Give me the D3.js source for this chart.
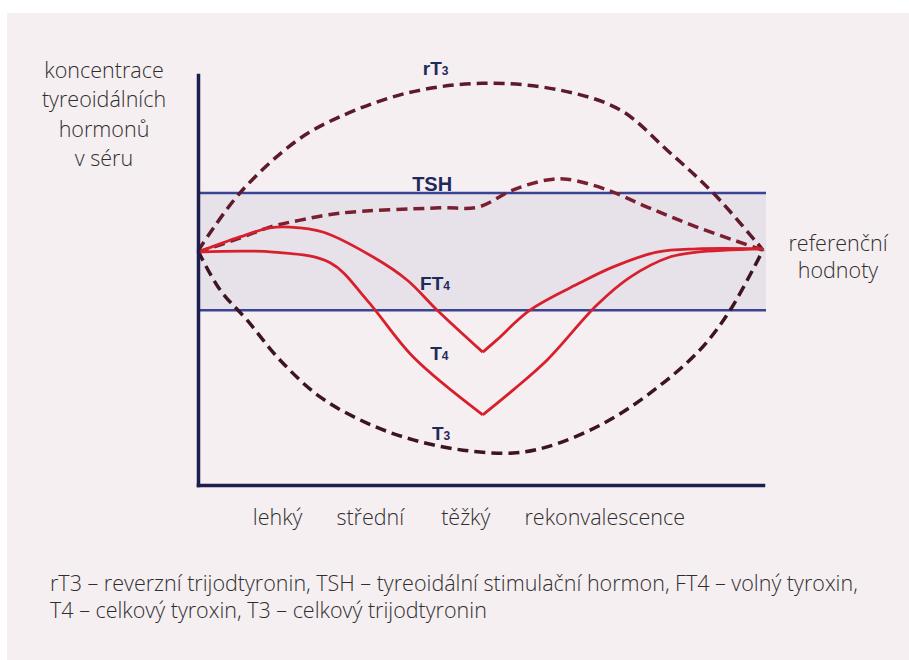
<!DOCTYPE html>
<html>
<head>
<meta charset="utf-8">
<script src="https://cdnjs.cloudflare.com/ajax/libs/d3/7.8.5/d3.min.js"></script>
<style>
  body { margin: 0; background: #fff; }
  svg { display: block; }
  .txt { font-family: "Open Sans", sans-serif; font-weight: 300; fill: #2e2e2e; }
  .tag { font-family: "Liberation Sans", Arial, sans-serif; font-weight: bold; fill: #1f2a5c; }
</style>
</head>
<body>
<script>
// phases of illness along the x axis (0..100 = time from onset to recovery)
var phases = ["lehký", "střední", "těžký", "rekonvalescence"];
var phaseAt = [14, 30.4, 47.3, 71.9];

// reference range (relative concentration, 0..100 = bottom..top of plot)
var refBand = [42.6, 71.2];

// hormone curves: [time, concentration]
var rT3 = [[0, 57.1], [7.4, 71.2], [17.5, 84], [25.1, 89.8], [37, 95.6], [50.4, 98],
    [64.1, 96.3], [74.7, 91.5], [83, 81.7], [91.2, 71.2], [100, 57.3]];
var TSH = [[0, 56.8], [7.4, 60.2], [12.7, 62.9], [18.1, 64.6], [25.1, 66.3], [42.8, 67.6],
    [49.6, 67.8], [55.8, 72], [61.8, 74.4], [65.3, 74.6], [72.4, 72], [79.5, 67.8],
    [88.3, 62.9], [100, 57.3]];
var FT4 = [[0, 56.8], [7.4, 60.5], [12.7, 62.7], [16.3, 62.9], [22.1, 61.7], [31, 55.6],
    [37, 50], [42.3, 42.7], [50.4, 32.4], [52.9, 35.4], [58.8, 42.7], [67.6, 49.3],
    [73.5, 53.2], [81.2, 56.8], [88.3, 57.6], [100, 57.6]];
var T4 = [[0, 56.8], [13.3, 56.8], [23.4, 54.2], [29.9, 45.1], [38.1, 31.2], [50.4, 17.1],
    [55.8, 23.2], [61.8, 30.5], [70.6, 43.9], [76.5, 50.7], [83.5, 55.6], [88.3, 56.8],
    [100, 57.6]];
var T3 = [[0, 57.1], [3.9, 47.6], [8.7, 40.2], [14.5, 30.5], [21.6, 21.5], [29.9, 15.1],
    [38.1, 11], [46.9, 8.5], [55.8, 7.8], [61.8, 9.3], [71.2, 14.6], [80, 22.4],
    [88.8, 32.9], [94.2, 42.7], [100, 57.3]];

// curve labels
var tags = [
    { main: "rT", sub: "3", at: [39.8, 100], size: 19 },
    { main: "TSH", sub: "", at: [37.9, 71.7], size: 20 },
    { main: "FT", sub: "4", at: [39.3, 47.6], size: 19 },
    { main: "T", sub: "4", at: [41.1, 30.5], size: 19 },
    { main: "T", sub: "3", at: [41.4, 11], size: 19 }
];

var yLabel = ["koncentrace", "tyreoidálních", "hormonů", "v séru"];
var refLabel = ["referenční", "hodnoty"];
var notes = ["rT3 – reverzní trijodtyronin, TSH – tyreoidální stimulační hormon, FT4 – volný tyroxin,",
    "T4 – celkový tyroxin, T3 – celkový trijodtyronin"];

var W = 909, H = 660;
var fs = 21.5;

var svg = d3.select("body").append("svg")
    .attr("width", W)
    .attr("height", H);

svg.append("rect")
    .attr("x", 7).attr("y", 13)
    .attr("width", W - 7).attr("height", H - 13)
    .style("fill", "#f6eff2");

var x = d3.scaleLinear().domain([0, 100]).range([198, 763]);
var y = d3.scaleLinear().domain([0, 100]).range([485, 75]);

// reference band
svg.append("rect")
    .attr("x", x(0))
    .attr("y", y(refBand[1]))
    .attr("width", x(100) - x(0) + 3)
    .attr("height", y(refBand[0]) - y(refBand[1]))
    .style("fill", "#e7e2ea");

svg.append("g").selectAll("line")
    .data(refBand)
    .enter()
    .append("line")
    .attr("x1", x(0))
    .attr("x2", x(100) + 3)
    .attr("y1", function(d) { return y(d); })
    .attr("y2", function(d) { return y(d); })
    .style("stroke", "#3b4393")
    .style("stroke-width", 2.5);

var line = d3.line()
    .x(function(d) { return x(d[0]); })
    .y(function(d) { return y(d[1]); })
    .curve(d3.curveCatmullRom.alpha(0.5));

// split at the minimum so the V stays sharp
function pieces(s) {
    var k = d3.minIndex(s, function(d) { return d[1]; });
    return [s.slice(0, k + 1), s.slice(k)];
}

var dashed = [
    { data: rT3, color: "#5c1a2b" },
    { data: TSH, color: "#7a1f30" },
    { data: T3, color: "#3d1520" }
];

svg.append("g").selectAll("path")
    .data(dashed)
    .enter()
    .append("path")
    .attr("d", function(d) { return line(d.data); })
    .style("fill", "none")
    .style("stroke", function(d) { return d.color; })
    .style("stroke-width", 3.5)
    .style("stroke-dasharray", "11,6");

var solid = pieces(FT4).concat(pieces(T4));

svg.append("g").selectAll("path")
    .data(solid)
    .enter()
    .append("path")
    .attr("d", function(d) { return line(d); })
    .style("fill", "none")
    .style("stroke", "#d7202c")
    .style("stroke-width", 2.8)
    .style("stroke-linejoin", "round");

// axes
var xAxis = svg.append("g")
    .attr("transform", "translate(0," + y(0) + ")")
    .call(d3.axisBottom(x)
        .tickValues(phaseAt)
        .tickFormat(function(d, i) { return phases[i]; })
        .tickSize(0)
        .tickSizeOuter(0)
        .tickPadding(25));

var yAxis = svg.append("g")
    .attr("transform", "translate(" + x(0) + ",0)")
    .call(d3.axisLeft(y).tickValues([]).tickSizeOuter(0));

svg.selectAll(".domain")
    .style("stroke", "#1b1f4e")
    .style("stroke-width", 3.5)
    .style("stroke-linecap", "square");

xAxis.selectAll("text")
    .attr("class", "txt")
    .style("font-size", fs + "px")
    .style("fill", "#2e2e2e");
xAxis.attr("font-family", null).attr("font-size", null);
yAxis.attr("font-family", null).attr("font-size", null);

// curve labels
var tg = svg.append("g").selectAll("text")
    .data(tags)
    .enter()
    .append("text")
    .attr("class", "tag")
    .attr("x", function(d) { return x(d.at[0]); })
    .attr("y", function(d) { return y(d.at[1]); })
    .style("font-size", function(d) { return d.size + "px"; });
tg.append("tspan").text(function(d) { return d.main; });
tg.append("tspan")
    .style("font-size", "12px")
    .text(function(d) { return d.sub; });

// y axis title
svg.append("g").selectAll("text")
    .data(yLabel)
    .enter()
    .append("text")
    .attr("class", "txt")
    .attr("x", 104)
    .attr("y", function(d, i) { return 78 + i * 29.3; })
    .attr("text-anchor", "middle")
    .style("font-size", fs + "px")
    .text(function(d) { return d; });

// reference label
svg.append("g").selectAll("text")
    .data(refLabel)
    .enter()
    .append("text")
    .attr("class", "txt")
    .attr("x", 838)
    .attr("y", function(d, i) { return 251 + i * 27; })
    .attr("text-anchor", "middle")
    .style("font-size", fs + "px")
    .text(function(d) { return d; });

// footnote
svg.append("g").selectAll("text")
    .data(notes)
    .enter()
    .append("text")
    .attr("class", "txt")
    .attr("x", 50)
    .attr("y", function(d, i) { return 591 + i * 27; })
    .style("font-size", fs + "px")
    .text(function(d) { return d; });
</script>
</body>
</html>
